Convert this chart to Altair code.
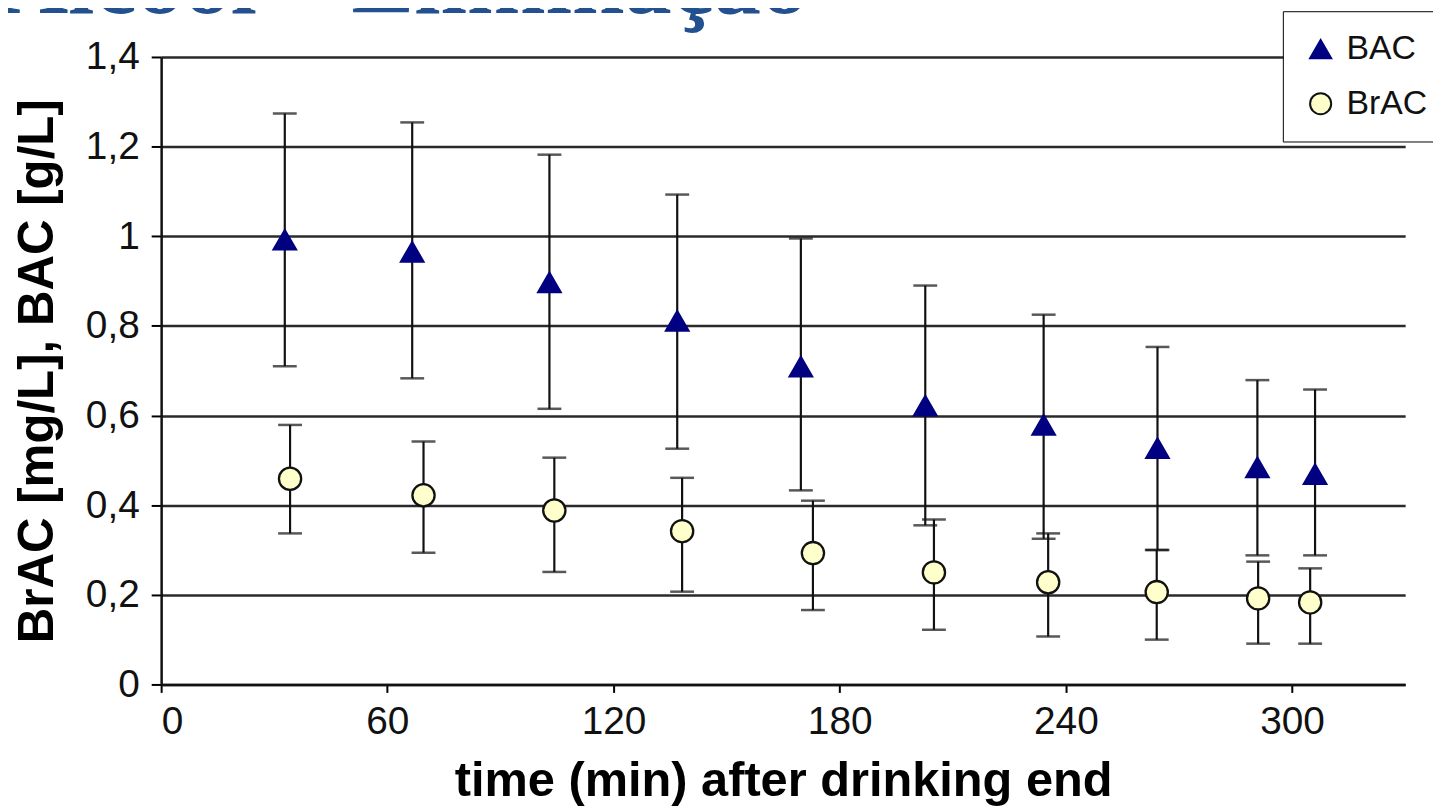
import altair as alt
import pandas as pd

# ---- data ----
series_names = ["BAC", "BrAC"]

bac_time = [32.8, 66.6, 103.0, 136.9, 169.7, 202.7, 234.1, 264.3, 290.8, 306.1]
bac_mean = [0.992, 0.965, 0.897, 0.811, 0.709, 0.622, 0.579, 0.527, 0.484, 0.469]
bac_low = [0.710, 0.683, 0.615, 0.526, 0.433, 0.355, 0.325, 0.300, 0.288, 0.288]
bac_high = [1.274, 1.254, 1.182, 1.093, 0.995, 0.890, 0.825, 0.753, 0.679, 0.658]

brac_time = [34.2, 69.6, 104.3, 138.2, 172.9, 205.0, 235.3, 264.1, 291.0, 304.8]
brac_mean = [0.459, 0.422, 0.388, 0.342, 0.293, 0.250, 0.228, 0.206, 0.192, 0.183]
brac_low = [0.337, 0.294, 0.251, 0.207, 0.166, 0.122, 0.107, 0.100, 0.091, 0.091]
brac_high = [0.579, 0.542, 0.506, 0.461, 0.410, 0.368, 0.337, 0.300, 0.274, 0.259]

x_ticks = [0, 60, 120, 180, 240, 300]
y_ticks = [0, 0.2, 0.4, 0.6, 0.8, 1.0, 1.2, 1.4]

title_text = "Álcool – Eliminação"
x_title = "time (min) after drinking end"
y_title = "BrAC [mg/L], BAC [g/L]"

# ---- build table ----
rows = []
for t, m, lo, hi in zip(bac_time, bac_mean, bac_low, bac_high):
    rows.append({"series": "BAC", "t": t, "v": m, "lo": lo, "hi": hi})
for t, m, lo, hi in zip(brac_time, brac_mean, brac_low, brac_high):
    rows.append({"series": "BrAC", "t": t, "v": m, "lo": lo, "hi": hi})
df = pd.DataFrame(rows)

FONT = "Liberation Sans"

x_enc = alt.X(
    "t:Q",
    scale=alt.Scale(domain=[0, 330], nice=False),
    axis=alt.Axis(
        values=x_ticks, grid=False, title=x_title,
        tickSize=8, tickColor="#000", tickWidth=2,
        domainColor="#111", domainWidth=2.5,
        labelFontSize=39, labelFont=FONT, labelColor="#111", labelPadding=10,
        titleFontSize=49, titleFont=FONT, titleFontWeight="bold",
        titleColor="#000", titlePadding=16,
    ),
)

y_axis = alt.Axis(
    values=y_ticks, grid=True, gridColor="#2a2a2a", gridWidth=2.5,
    title=y_title,
    labelExpr="replace(format(datum.value, '.1~f'), '.', ',')",
    tickSize=10, tickColor="#000", tickWidth=2,
    domainColor="#111", domainWidth=2.5,
    labelFontSize=39, labelFont=FONT, labelColor="#111", labelPadding=12,
    titleFontSize=49.5, titleFont=FONT, titleFontWeight="bold",
    titleColor="#000", titlePadding=23,
)
y_scale = alt.Scale(domain=[0, 1.4], nice=False)

base = alt.Chart(df)

bars = base.mark_rule(color="#111", strokeWidth=2.2).encode(
    x=x_enc,
    y=alt.Y("lo:Q", scale=y_scale, axis=y_axis),
    y2="hi:Q",
)
cap_hi = base.mark_tick(orient="horizontal", size=24, thickness=2.5, color="#111").encode(
    x="t:Q", y=alt.Y("hi:Q", scale=y_scale)
)
cap_lo = base.mark_tick(orient="horizontal", size=24, thickness=2.5, color="#111").encode(
    x="t:Q", y=alt.Y("lo:Q", scale=y_scale)
)

points = base.mark_point(filled=True, size=500, strokeWidth=2.3, opacity=1).encode(
    x="t:Q",
    y=alt.Y("v:Q", scale=y_scale),
    shape=alt.Shape("series:N", scale=alt.Scale(domain=series_names, range=["triangle-up", "circle"]),
                    legend=alt.Legend(title=None)),
    fill=alt.Fill("series:N", scale=alt.Scale(domain=series_names, range=["#000080", "#FFFFCC"]),
                  legend=alt.Legend(title=None)),
    stroke=alt.Stroke("series:N", scale=alt.Scale(domain=series_names, range=["#000080", "#111111"]),
                      legend=alt.Legend(title=None)),
)

title_df = pd.DataFrame({"label": [title_text]})
title_mark = alt.Chart(title_df).mark_text(
    align="left", baseline="alphabetic", font="Liberation Serif", fontWeight="bold",
    fontSize=95, color="#23508F",
).encode(
    text="label:N", x=alt.value(-162), y=alt.value(-44)
)

chart = (
    alt.layer(bars, cap_hi, cap_lo, points, title_mark)
    .properties(
        width=1251, height=631,
        autosize=alt.AutoSizeParams(type="none"),
        padding={"left": 154, "top": 47, "right": 28, "bottom": 120},
        background="white",
    )
    .configure_view(stroke=None)
    .configure_legend(
        orient="none", legendX=1128, legendY=-46,
        padding=21, strokeColor="#000", fillColor="white",
        labelFontSize=34, labelFont=FONT, labelColor="#111", labelOffset=9,
        symbolSize=450, symbolStrokeWidth=2, rowPadding=21,
        cornerRadius=0,
    )
)

chart.save("out.html", embed_options={"renderer": "svg", "actions": False})
